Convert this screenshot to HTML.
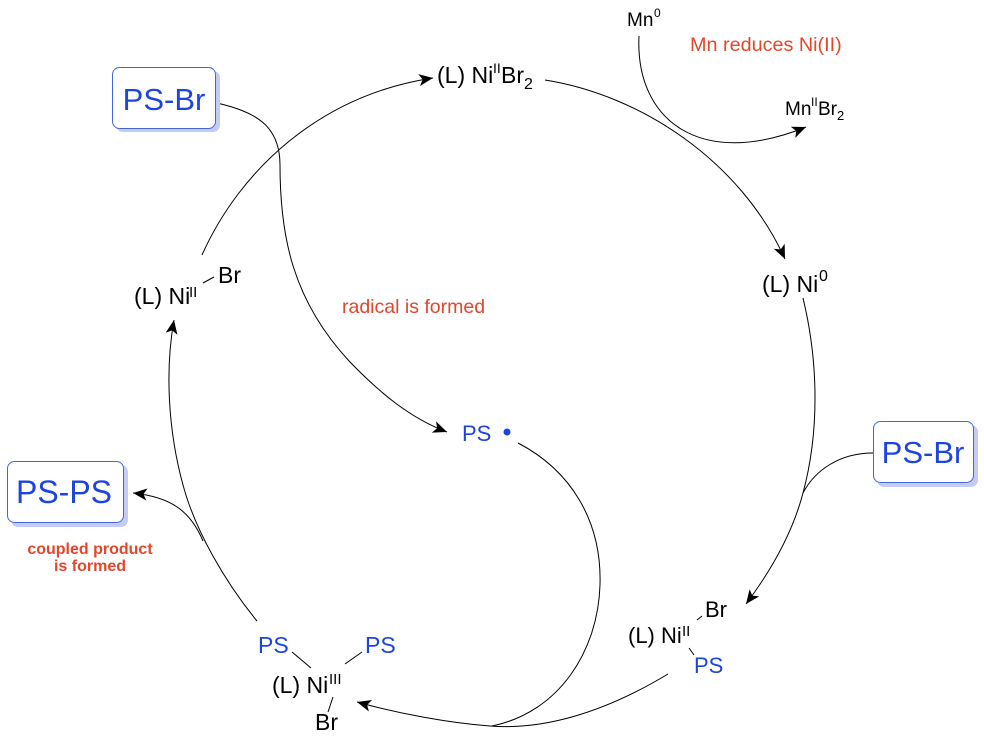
<!DOCTYPE html>
<html><head><meta charset="utf-8"><style>
html,body{margin:0;padding:0;background:#fff;}
svg{display:block;}
text{font-family:"Liberation Sans",Arial,sans-serif;}
</style></head><body>
<svg width="984" height="736" viewBox="0 0 984 736" xmlns="http://www.w3.org/2000/svg">
<defs>
<marker id="ar" markerUnits="userSpaceOnUse" markerWidth="16" markerHeight="14" refX="14" refY="6" orient="auto" viewBox="0 0 16 12">
<path d="M0,0 L14,6 L0,12 L3.5,6 Z" fill="#000"/>
</marker>
</defs>
<g fill="none" stroke="#000" stroke-width="1">
<!-- PS-Br top -> PS radical -->
<path d="M217,103 C255,112 280,125 280,165 C280,235 292,300 350,362 C380,393 410,418 447,432" marker-end="url(#ar)"/>
<!-- Ni(II)Br left -> Ni(II)Br2 -->
<path d="M202,255 C240,170 320,95 433,78" marker-end="url(#ar)"/>
<!-- Ni(II)Br2 -> Ni0 -->
<path d="M545,80 C640,95 740,160 785,259" marker-end="url(#ar)"/>
<!-- Mn0 -> MnBr2 -->
<path d="M639,36 C635,120 700,170 806,127" marker-end="url(#ar)"/>
<!-- Ni0 -> Ni(II) bottom right -->
<path d="M803,298 C818,360 820,430 803,493 C792,535 770,572 746,604" marker-end="url(#ar)"/>
<!-- PS-Br right joins -->
<path d="M873,453 C840,453 815,470 803,493"/>
<!-- Ni(II) bottom right -> Ni(III) -->
<path d="M668,674 C600,715 540,730 490,726 C450,723 400,714 357,702" marker-end="url(#ar)"/>
<!-- PS radical joins -->
<path d="M518,443 C570,470 602,520 600,585 C598,650 560,712 492,726"/>
<!-- Ni(III) -> Ni(II) left -->
<path d="M257,621 C225,582 195,530 183,485 C168,430 165,370 174,320" marker-end="url(#ar)"/>
<!-- branch to PS-PS -->
<path d="M203,541 C190,510 170,497 133,493" marker-end="url(#ar)"/>
<!-- bonds -->
<line x1="203" y1="283" x2="214" y2="277"/>
<line x1="292" y1="652" x2="311" y2="668"/>
<line x1="362" y1="652" x2="345" y2="664"/>
<line x1="333" y1="697" x2="328" y2="712"/>
<line x1="697" y1="620" x2="702" y2="616"/>
<line x1="689" y1="648" x2="694" y2="655"/>
</g>

<!-- boxes -->
<rect x="116" y="71" width="104" height="61" rx="7" fill="#c3ccf6"/>
<rect x="112.5" y="67.5" width="103" height="61" rx="7" fill="#fff" stroke="#4466dd" stroke-width="1"/>
<text x="164" y="110" font-size="31" fill="#1e44e0" text-anchor="middle">PS-Br</text>

<rect x="877" y="425" width="101" height="62" rx="7" fill="#c3ccf6"/>
<rect x="873.5" y="421.5" width="100" height="61" rx="7" fill="#fff" stroke="#4466dd" stroke-width="1"/>
<text x="923" y="463" font-size="31" fill="#1e44e0" text-anchor="middle">PS-Br</text>

<rect x="11" y="465" width="117" height="62" rx="7" fill="#c3ccf6"/>
<rect x="7.5" y="461.5" width="116" height="61" rx="7" fill="#fff" stroke="#4466dd" stroke-width="1"/>
<text x="64" y="503" font-size="32" fill="#1e44e0" text-anchor="middle">PS-PS</text>

<!-- top Ni(II)Br2 -->
<text x="437" y="83" font-size="23" fill="#000">(L) Ni</text>
<text x="493" y="73" font-size="14" fill="#000">II</text>
<text x="501" y="83" font-size="23" fill="#000">Br</text>
<text x="524" y="89" font-size="16" fill="#000">2</text>

<!-- Mn0 -->
<text x="627" y="26" font-size="19" fill="#000">Mn</text>
<text x="654" y="17" font-size="12" fill="#000">0</text>
<text x="690" y="51" font-size="19.8" fill="#e2462b">Mn reduces Ni(II)</text>

<!-- MnBr2 -->
<text x="785" y="115" font-size="19" fill="#000">Mn</text>
<text x="811" y="106" font-size="12" fill="#000">II</text>
<text x="818" y="115" font-size="19" fill="#000">Br</text>
<text x="837" y="120" font-size="13" fill="#000">2</text>

<!-- Ni0 -->
<text x="762" y="292" font-size="23" fill="#000">(L) Ni</text>
<text x="819" y="281" font-size="16" fill="#000">0</text>

<!-- left Ni(II)Br -->
<text x="134" y="304" font-size="23" fill="#000">(L) Ni</text>
<text x="189" y="297" font-size="15" fill="#000">II</text>
<text x="218" y="283" font-size="23" fill="#000">Br</text>

<text x="342" y="313" font-size="19.5" fill="#e2462b">radical is formed</text>

<!-- PS radical -->
<text x="462" y="441" font-size="22" fill="#1e44e0">PS</text>
<circle cx="507" cy="432" r="3.5" fill="#1e44e0"/>

<!-- coupled product -->
<text x="90" y="554" font-size="16" font-weight="bold" fill="#e2462b" text-anchor="middle">coupled product</text>
<text x="90" y="571" font-size="16" font-weight="bold" fill="#e2462b" text-anchor="middle">is formed</text>

<!-- Ni(III) -->
<text x="258" y="653" font-size="23" fill="#1e44e0">PS</text>
<text x="365" y="653" font-size="23" fill="#1e44e0">PS</text>
<text x="272" y="693" font-size="23" fill="#000">(L) Ni</text>
<text x="329" y="684" font-size="15" fill="#000">III</text>
<text x="315" y="730" font-size="23" fill="#000">Br</text>

<!-- Ni(II) bottom right -->
<text x="628" y="643" font-size="22" fill="#000">(L)</text>
<text x="661" y="643" font-size="22" fill="#000">Ni</text>
<text x="682" y="636" font-size="15" fill="#000">II</text>
<text x="705" y="617" font-size="22" fill="#000">Br</text>
<text x="694" y="673" font-size="22" fill="#1e44e0">PS</text>
</svg>
</body></html>
